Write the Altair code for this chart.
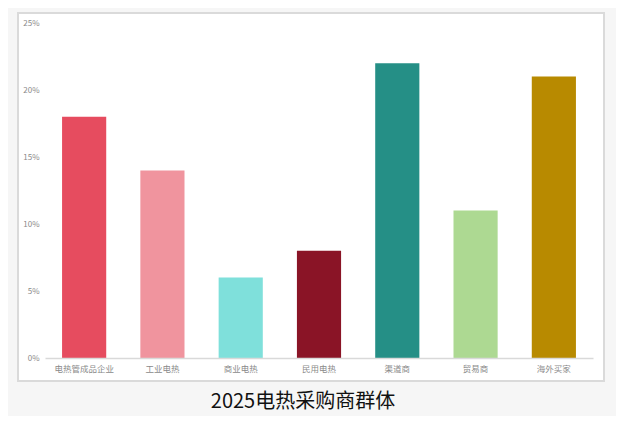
import altair as alt
import pandas as pd

categories = ["电热管成品企业", "工业电热", "商业电热", "民用电热", "渠道商", "贸易商", "海外买家"]
shares = [0.18, 0.14, 0.06, 0.08, 0.22, 0.11, 0.21]
colors = ["#E64C5F", "#F0949E", "#7FE0DB", "#8A1426", "#258F86", "#ADD992", "#B88A00"]
y_ticks = [0, 0.05, 0.10, 0.15, 0.20, 0.25]
title_text = "2025电热采购商群体"

df = pd.DataFrame({"cat": categories, "share": shares})
frame_df = pd.DataFrame({"a": [0]})

W, H = 548, 335

frame = alt.Chart(frame_df).mark_rect(
    fill="white", stroke="#dadada", strokeWidth=2
).encode(
    x=alt.value(-27), x2=alt.value(W + 11),
    y=alt.value(-10), y2=alt.value(H + 23),
)

bars = alt.Chart(df).mark_bar().encode(
    x=alt.X("cat:N", sort=categories, title=None,
            scale=alt.Scale(paddingInner=0.436, paddingOuter=0.218),
            axis=alt.Axis(labelAngle=0, labelFont="Noto Sans CJK SC", labelFontSize=8.5,
                          labelColor="#8a8a8a", ticks=False, labelPadding=6,
                          domainColor="#d9d9d9", domainWidth=1.5, grid=False, zindex=1)),
    y=alt.Y("share:Q", title=None,
            scale=alt.Scale(domain=[0, 0.25], nice=False),
            axis=alt.Axis(values=y_ticks, format=".0%", labelFont="Noto Sans CJK SC",
                          labelFontSize=8, labelColor="#8a8a8a", ticks=False,
                          domain=False, grid=False, labelPadding=6, zindex=1)),
    color=alt.Color("cat:N", sort=categories,
                    scale=alt.Scale(domain=categories, range=colors), legend=None),
)

chart = alt.layer(frame, bars).properties(
    width=W, height=H,
    title=alt.TitleParams(title_text, orient="bottom", anchor="middle",
                          font="Noto Sans CJK SC", fontSize=20, fontWeight="normal",
                          color="#111111", offset=10, dx=-16),
    autosize=alt.AutoSizeParams(type="none"),
    padding={"left": 37, "top": 15, "right": 23, "bottom": 58},
).configure(background="#f6f6f6").configure_view(stroke=None)

chart.save("out.html", embed_options={"renderer": "svg", "actions": False})
